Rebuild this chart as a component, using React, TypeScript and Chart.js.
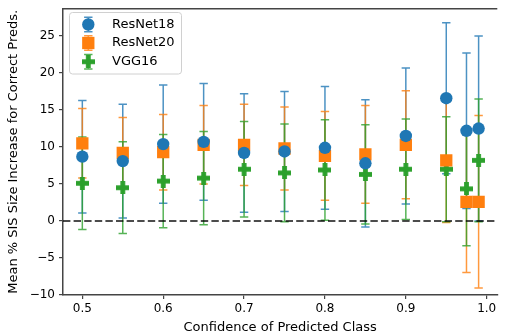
import React, { useEffect, useRef } from "react";
import { Chart, registerables } from "chart.js";

Chart.register(...registerables);

const confidences = [0.5, 0.55, 0.6, 0.65, 0.7, 0.75, 0.8, 0.85, 0.9, 0.95, 0.975, 0.99];

const resnet18Mean = [8.7, 8.1, 10.4, 10.7, 9.2, 9.4, 9.9, 7.8, 11.5, 16.6, 12.2, 12.5];
const resnet18Err = [7.6, 7.7, 8.0, 7.9, 8.0, 8.1, 8.3, 8.6, 9.2, 10.2, 10.5, 12.5];

const resnet20Mean = [10.5, 9.2, 9.3, 10.3, 10.3, 9.8, 8.8, 9.0, 10.3, 8.2, 2.6, 2.6];
const resnet20Err = [4.7, 4.8, 5.1, 5.3, 5.5, 5.6, 6.0, 6.6, 7.3, 8.4, 9.55, 11.65];

const vgg16Mean = [5.1, 4.5, 5.4, 5.8, 7.0, 6.5, 6.9, 6.3, 7.0, 7.0, 4.35, 8.2];
const vgg16Err = [6.25, 6.2, 6.3, 6.3, 6.45, 6.6, 6.8, 6.7, 6.8, 7.1, 7.7, 8.3];

const xTicks = [0.5, 0.6, 0.7, 0.8, 0.9, 1.0];
const yTicks = [-10, -5, 0, 5, 10, 15, 20, 25];

const seriesLabels = ["ResNet18", "ResNet20", "VGG16"];
const FONT = "'DejaVu Sans', sans-serif";

function makePlus(color: string, size = 13, arm = 4.8) {
  const c = document.createElement("canvas");
  c.width = size;
  c.height = size;
  const g = c.getContext("2d")!;
  g.fillStyle = color;
  const a = (size - arm) / 2;
  g.fillRect(a, 0, arm, size);
  g.fillRect(0, a, size, arm);
  return c;
}

export default function App() {
  const ref = useRef<HTMLCanvasElement>(null);

  useEffect(() => {
    document.body.style.margin = "0";
    const canvas = ref.current!;
    const plus = makePlus("#2ca02c");

    const series = [
      { label: seriesLabels[0], mean: resnet18Mean, err: resnet18Err, color: "#1f77b4", errColor: "rgba(31,119,180,0.8)", style: "circle" as any, radius: 6.2 },
      { label: seriesLabels[1], mean: resnet20Mean, err: resnet20Err, color: "#ff7f0e", errColor: "rgba(255,127,14,0.8)", style: "rect" as any, radius: 8.7 },
      { label: seriesLabels[2], mean: vgg16Mean, err: vgg16Err, color: "#2ca02c", errColor: "rgba(44,160,44,0.8)", style: plus as any, radius: 6.5 },
    ];

    const cap = 4.2;

    const errorPlugin = {
      id: "errorBars",
      beforeDatasetsDraw(chart: any) {
        const { ctx, chartArea } = chart;
        const xs = chart.scales.x;
        const ys = chart.scales.y;
        ctx.save();
        ctx.beginPath();
        ctx.rect(chartArea.left, chartArea.top, chartArea.right - chartArea.left, chartArea.bottom - chartArea.top);
        ctx.clip();
        series.forEach((s) => {
          ctx.strokeStyle = s.errColor;
          ctx.lineWidth = 1.5;
          s.mean.forEach((m, j) => {
            const px = xs.getPixelForValue(confidences[j]);
            const top = ys.getPixelForValue(m + s.err[j]);
            const bot = ys.getPixelForValue(m - s.err[j]);
            ctx.beginPath();
            ctx.moveTo(px, top);
            ctx.lineTo(px, bot);
            ctx.moveTo(px - cap, top);
            ctx.lineTo(px + cap, top);
            ctx.moveTo(px - cap, bot);
            ctx.lineTo(px + cap, bot);
            ctx.stroke();
          });
        });
        // zero reference line
        const y0 = ys.getPixelForValue(0);
        ctx.strokeStyle = "rgba(0,0,0,0.7)";
        ctx.lineWidth = 2;
        ctx.setLineDash([7.4, 3.2]);
        ctx.beginPath();
        ctx.moveTo(chartArea.left, y0);
        ctx.lineTo(chartArea.right, y0);
        ctx.stroke();
        ctx.restore();
      },
      afterDraw(chart: any) {
        const { ctx, chartArea } = chart;
        ctx.save();
        // top spine
        ctx.strokeStyle = "#444";
        ctx.lineWidth = 1.5;
        ctx.beginPath();
        ctx.moveTo(chartArea.left, chartArea.top);
        ctx.lineTo(chartArea.right, chartArea.top);
        ctx.stroke();

        // legend
        const bx = 69.5, by = 12.5, bw = 112, bh = 61.5, r = 3;
        ctx.beginPath();
        ctx.moveTo(bx + r, by);
        ctx.lineTo(bx + bw - r, by);
        ctx.quadraticCurveTo(bx + bw, by, bx + bw, by + r);
        ctx.lineTo(bx + bw, by + bh - r);
        ctx.quadraticCurveTo(bx + bw, by + bh, bx + bw - r, by + bh);
        ctx.lineTo(bx + r, by + bh);
        ctx.quadraticCurveTo(bx, by + bh, bx, by + bh - r);
        ctx.lineTo(bx, by + r);
        ctx.quadraticCurveTo(bx, by, bx + r, by);
        ctx.closePath();
        ctx.fillStyle = "rgba(255,255,255,0.8)";
        ctx.fill();
        ctx.strokeStyle = "#d0d0d0";
        ctx.lineWidth = 1;
        ctx.stroke();

        const rows = [24.5, 43, 61.7];
        const mx = 88.3;
        series.forEach((s, i) => {
          const cy = rows[i];
          ctx.strokeStyle = s.errColor;
          ctx.lineWidth = 1.5;
          ctx.beginPath();
          ctx.moveTo(mx, cy - 7.2);
          ctx.lineTo(mx, cy + 7.2);
          ctx.moveTo(mx - cap, cy - 7.2);
          ctx.lineTo(mx + cap, cy - 7.2);
          ctx.moveTo(mx - cap, cy + 7.2);
          ctx.lineTo(mx + cap, cy + 7.2);
          ctx.stroke();
          ctx.fillStyle = s.color;
          if (s.style === "circle") {
            ctx.beginPath();
            ctx.arc(mx, cy, s.radius, 0, Math.PI * 2);
            ctx.fill();
          } else if (s.style === "rect") {
            const h = s.radius * Math.SQRT1_2;
            ctx.fillRect(mx - h, cy - h, 2 * h, 2 * h);
          } else {
            ctx.drawImage(plus, mx - plus.width / 2, cy - plus.height / 2);
          }
          ctx.fillStyle = "#000";
          ctx.font = `13px ${FONT}`;
          ctx.textBaseline = "middle";
          ctx.textAlign = "left";
          ctx.fillText(s.label, 112, cy);
        });
        ctx.restore();
      },
    };

    const chart = new Chart(canvas, {
      type: "scatter",
      data: {
        datasets: series.map((s) => ({
          label: s.label,
          data: s.mean.map((m, j) => ({ x: confidences[j], y: m })),
          pointStyle: s.style,
          pointRadius: s.radius,
          pointHoverRadius: s.radius,
          backgroundColor: s.color,
          borderColor: s.color,
          pointBorderWidth: 0,
          showLine: false,
        })),
      },
      options: {
        animation: false,
        responsive: false,
        devicePixelRatio: 1,
        layout: { padding: { top: 6, left: 0, right: 0, bottom: 0 } },
        plugins: { legend: { display: false }, tooltip: { enabled: false } },
        scales: {
          x: {
            type: "linear",
            min: 0.4761,
            max: 1.0131,
            afterFit: (s: any) => {
              s.height = 40;
              s.paddingLeft = 0;
              s.paddingRight = 0;
              s.paddingTop = 0;
              s.paddingBottom = 0;
            },
            afterBuildTicks: (s: any) => {
              s.ticks = xTicks.map((v) => ({ value: v }));
            },
            ticks: {
              callback: (v: any) => Number(v).toFixed(1),
              font: { family: FONT, size: 12 },
              color: "#000",
              padding: 3,
              maxRotation: 0,
            },
            grid: { display: true, drawOnChartArea: false, drawTicks: true, tickLength: 4, color: "#444", lineWidth: 1.2 },
            border: { display: true, color: "#444", width: 1.5 },
            title: {
              display: true,
              text: "Confidence of Predicted Class",
              font: { family: FONT, size: 13 },
              color: "#000",
              padding: { top: 0, bottom: 0 },
            },
          },
          y: {
            type: "linear",
            min: -10,
            max: 28.7,
            afterFit: (s: any) => {
              s.width = 63;
              s.paddingLeft = 0;
              s.paddingRight = 0;
              s.paddingTop = 0;
              s.paddingBottom = 0;
            },
            afterBuildTicks: (s: any) => {
              s.ticks = yTicks.map((v) => ({ value: v }));
            },
            ticks: {
              callback: (v: any) => (Number(v) < 0 ? "\u2212" + Math.abs(Number(v)) : String(v)),
              font: { family: FONT, size: 12 },
              color: "#000",
              padding: 4,
            },
            grid: { display: true, drawOnChartArea: false, drawTicks: true, tickLength: 4, color: "#444", lineWidth: 1.2 },
            border: { display: true, color: "#444", width: 1.5 },
            title: {
              display: true,
              text: "Mean % SIS Size Increase for Correct Preds.",
              font: { family: FONT, size: 13 },
              color: "#000",
              padding: { top: 6, bottom: 0 },
            },
          },
        },
      },
      plugins: [errorPlugin],
    } as any);

    return () => chart.destroy();
  }, []);

  return <canvas ref={ref} width={506} height={335} style={{ display: "block" }} />;
}
